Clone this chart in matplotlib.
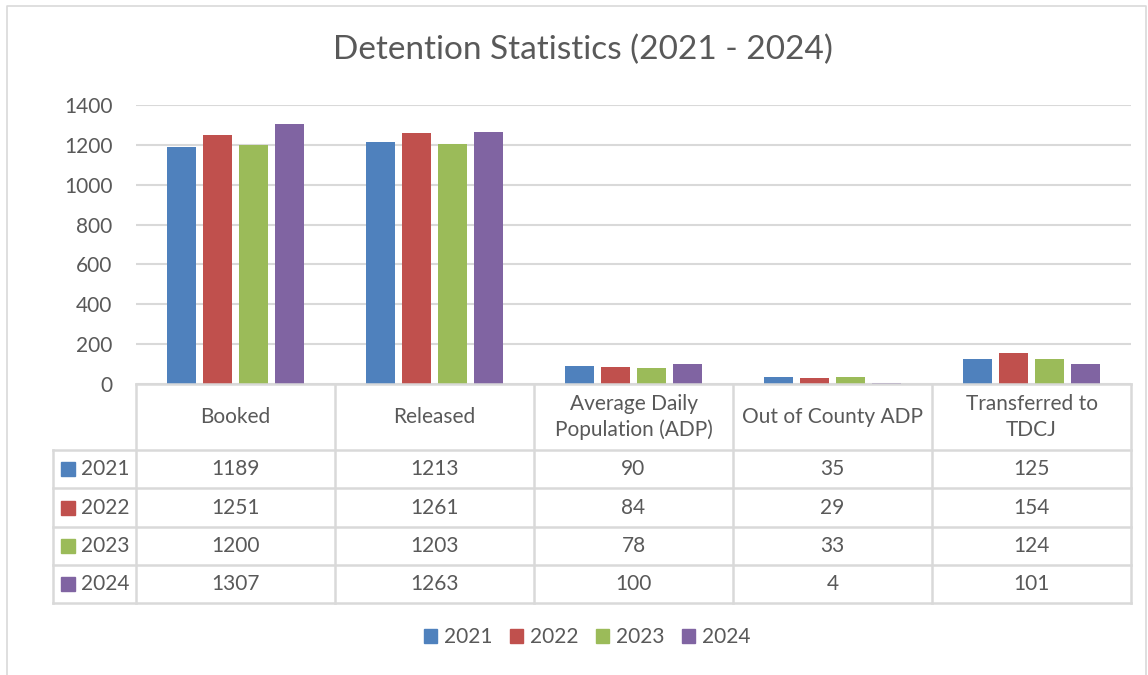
import matplotlib.pyplot as plt
from matplotlib.patches import Patch, Rectangle

# 数据
categories = ['Booked', 'Released', 'Average Daily\nPopulation (ADP)',
              'Out of County ADP', 'Transferred to\nTDCJ']
years = ['2021', '2022', '2023', '2024']
v2021 = [1189, 1213, 90, 35, 125]
v2022 = [1251, 1261, 84, 29, 154]
v2023 = [1200, 1203, 78, 33, 124]
v2024 = [1307, 1263, 100, 4, 101]
y_ticks = [0, 200, 400, 600, 800, 1000, 1200, 1400]

series = [v2021, v2022, v2023, v2024]
colors = ['#4F81BD', '#C0504D', '#9BBB59', '#8064A2']
text_color = '#595959'
line_color = '#D9D9D9'
fs = 15

plt.rcParams['font.family'] = ['Lato', 'DejaVu Sans']

W, H = 1148, 675
fig = plt.figure(figsize=(W / 100, H / 100), dpi=100)

# 像素坐标 -> 图形坐标
def fx(px):
    return px / W

def fy(py):
    return 1 - py / H

# 柱状图区域
left, right, top, bottom = 136, 1131, 105, 384
ax = fig.add_axes([fx(left), fy(bottom), fx(right) - fx(left), fy(top) - fy(bottom)])
step = 0.181
width = 0.141
for i, (vals, c) in enumerate(zip(series, colors)):
    xs = [k + (i - 1.5) * step for k in range(len(categories))]
    ax.bar(xs, vals, width=width, color=c, zorder=3)
ax.set_xlim(-0.5, len(categories) - 0.5)
ax.set_ylim(0, 1400)
ax.set_yticks(y_ticks)
ax.set_xticks([])
ax.tick_params(axis='y', length=0, pad=17, labelsize=fs, labelcolor=text_color)
ax.grid(axis='y', color=line_color, linewidth=1.5, zorder=0)
for s in ax.spines.values():
    s.set_visible(False)

# 数据表（像素坐标叠加层）
ov = fig.add_axes([0, 0, 1, 1], zorder=5)
ov.set_xlim(0, W)
ov.set_ylim(H, 0)
ov.axis('off')
ov.patch.set_alpha(0)

col_x = [136, 335, 534, 733, 932, 1131]
row_y = [384, 450, 488, 527, 565, 603]
lab_x = 53
lw = 1.8

ov.plot([col_x[0], col_x[-1]], [row_y[0], row_y[0]], color=line_color, lw=lw)
for y in row_y[1:]:
    ov.plot([lab_x, col_x[-1]], [y, y], color=line_color, lw=lw)
ov.plot([lab_x, lab_x], [row_y[1], row_y[-1]], color=line_color, lw=lw)
for x in col_x:
    ov.plot([x, x], [row_y[0], row_y[-1]], color=line_color, lw=lw)

for j, cat in enumerate(categories):
    cx = (col_x[j] + col_x[j + 1]) / 2
    ov.text(cx, (row_y[0] + row_y[1]) / 2, cat, ha='center', va='center',
            fontsize=fs, color=text_color, linespacing=1.35)
    for i, vals in enumerate(series):
        cy = (row_y[i + 1] + row_y[i + 2]) / 2
        ov.text(cx, cy, str(vals[j]), ha='center', va='center',
                fontsize=fs, color=text_color)

for i, (yr, c) in enumerate(zip(years, colors)):
    cy = (row_y[i + 1] + row_y[i + 2]) / 2
    ov.add_patch(Rectangle((61, cy - 7), 14, 14, color=c))
    ov.text(81, cy, yr, ha='left', va='center', fontsize=fs, color=text_color)

# 外框
ov.plot([7, 7, 1146, 1146], [H + 5, 6, 6, H + 5], color=line_color, lw=1.2)

# 标题
fig.text(fx(583), fy(50), 'Detention Statistics (2021 - 2024)', ha='center',
         va='center', fontsize=24, color=text_color)

# 图例
handles = [Patch(color=c, label=yr) for yr, c in zip(years, colors)]
fig.legend(handles=handles, loc='center', bbox_to_anchor=(fx(587), fy(637)),
           ncol=4, frameon=False, fontsize=fs, labelcolor=text_color,
           handlelength=0.65, handleheight=0.65, handletextpad=0.3,
           columnspacing=0.85)

fig.savefig('out.png', dpi=100)
